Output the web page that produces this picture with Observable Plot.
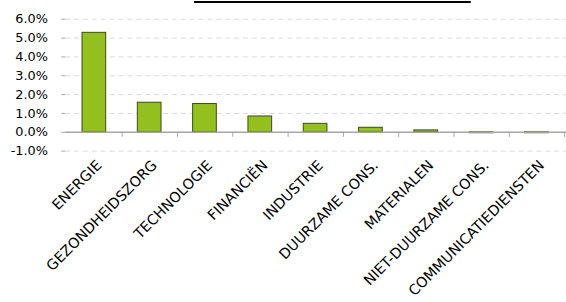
<!DOCTYPE html>
<html>
<head>
<meta charset="utf-8">
<script src="https://cdn.jsdelivr.net/npm/d3@7"></script>
<script src="https://cdn.jsdelivr.net/npm/@observablehq/plot@0.6"></script>
<style>
  html, body { margin: 0; padding: 0; background: #fff; overflow: hidden; }
  #wrap { position: relative; width: 566px; height: 302px; overflow: hidden; }
  #titleclip { position: absolute; left: 0; top: 0; width: 566px; height: 5px; overflow: hidden; }
  #title { position: absolute; left: 194px; top: -17px; font: bold 14.3px "DejaVu Sans", sans-serif;
           text-decoration: underline; text-decoration-thickness: 2px; text-underline-offset: 5px;
           white-space: nowrap; color: #000; }
  #chart { position: absolute; left: 0; top: 0; }
</style>
</head>
<body>
<div id="wrap">
  <div id="chart"></div>
  <div id="titleclip"><div id="title">Sectorbijdrage (in procentpunten)</div></div>
</div>
<script>
const categories = ["ENERGIE", "GEZONDHEIDSZORG", "TECHNOLOGIE", "FINANCIËN", "INDUSTRIE",
  "DUURZAME CONS.", "MATERIALEN", "NIET-DUURZAME CONS.", "COMMUNICATIEDIENSTEN"];
const values = [5.28, 1.57, 1.50, 0.84, 0.45, 0.24, 0.10, -0.05, -0.05];
const yTicks = [-1, 0, 1, 2, 3, 4, 5, 6];

const data = categories.map((c, i) => ({ sector: c, value: values[i] }));
const gridTicks = yTicks.filter(t => t !== 0);

const font = "DejaVu Sans, sans-serif";

const chart = Plot.plot({
  width: 573,
  height: 302,
  marginLeft: 66,
  marginRight: 0,
  marginTop: 19,
  marginBottom: 149.5,
  style: { fontFamily: font, fontSize: "13px", color: "#000", background: "transparent" },
  x: { domain: categories, paddingInner: 0.57, paddingOuter: 0.285, axis: null },
  y: { domain: [-1, 6], axis: null },
  marks: [
    Plot.ruleY(gridTicks, { stroke: "#d9d9d9", strokeWidth: 1, strokeDasharray: "5,4" }),
    Plot.barY(data, { x: "sector", y: "value", fill: "#93c01f", stroke: "#3b4d12", strokeWidth: 1 }),
    Plot.ruleY([0], { stroke: "#a6a6a6", strokeWidth: 1.5 }),
    Plot.ruleX(categories, { x: d => d, dx: 28.15, y1: 0, y2: -0.27, stroke: "#a6a6a6", strokeWidth: 1 }),
    Plot.ruleX([0], { frameAnchor: "left", y1: -1, y2: 6, stroke: "#a6a6a6", strokeWidth: 1 }),
    Plot.axisY(yTicks, { label: null, tickSize: 4, tickPadding: 14, stroke: "#a6a6a6", tickFormat: d => d.toFixed(1) + "%", fontSize: 13, fill: "#000" }),
    Plot.text(categories, { x: d => d, frameAnchor: "bottom", rotate: -45, textAnchor: "end",
      dx: 5, dy: 12, fontSize: 14.5, fill: "#000", lineAnchor: "middle" })
  ]
});
document.getElementById("chart").appendChild(chart);
</script>
</body>
</html>
